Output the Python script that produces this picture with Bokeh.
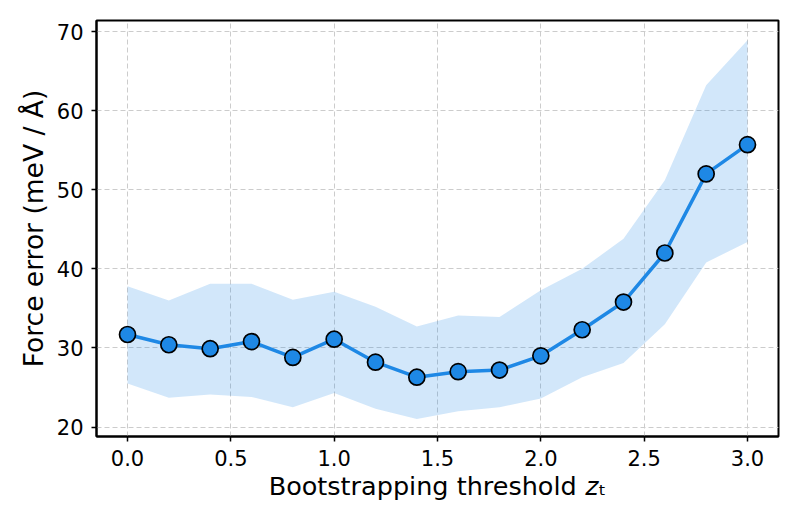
from bokeh.plotting import figure
from bokeh.models import Range1d, FixedTicker
from bokeh.embed import file_html
from bokeh.resources import INLINE

threshold = [0.0, 0.2, 0.4, 0.6, 0.8, 1.0, 1.2, 1.4, 1.6, 1.8, 2.0, 2.2, 2.4, 2.6, 2.8, 3.0]
force_error = [31.7, 30.4, 29.9, 30.8, 28.8, 31.1, 28.2, 26.3, 27.0, 27.2, 29.0, 32.3, 35.8, 42.0, 52.0, 55.7]
upper = [37.8, 36.0, 38.1, 38.1, 36.1, 37.1, 35.2, 32.7, 34.1, 33.9, 37.3, 40.0, 43.8, 51.2, 63.2, 68.9]
lower = [25.5, 23.7, 24.1, 23.8, 22.5, 24.3, 22.3, 21.0, 22.0, 22.5, 23.6, 26.3, 28.1, 33.0, 40.8, 43.4]
x_ticks = [0.0, 0.5, 1.0, 1.5, 2.0, 2.5, 3.0]
y_ticks = [20, 30, 40, 50, 60, 70]

FONT = "DejaVu Sans"
BLUE = "#1E88E5"

p = figure(width=781, height=516, output_backend="svg", toolbar_location=None,
           x_range=Range1d(-0.15, 3.15), y_range=Range1d(18.8, 71.4),
           min_border_left=96, min_border_right=3, min_border_top=20, min_border_bottom=80)
p.background_fill_color = "white"
p.border_fill_color = "white"
p.outline_line_color = "black"
p.outline_line_width = 2

p.varea(x=threshold, y1=lower, y2=upper, fill_color=BLUE, fill_alpha=0.2)
p.line(threshold, force_error, line_color=BLUE, line_width=3.5)
p.scatter(threshold, force_error, size=16, fill_color=BLUE, line_color="black", line_width=1.7)

for ax in (p.xaxis[0], p.yaxis[0]):
    ax.axis_line_color = "black"
    ax.axis_line_width = 2
    ax.major_tick_line_color = "black"
    ax.major_tick_line_width = 1.5
    ax.major_tick_out = 5
    ax.major_tick_in = 0
    ax.minor_tick_line_color = None
    ax.major_label_text_font = FONT
    ax.major_label_text_font_size = "21px"
    ax.major_label_text_color = "black"
    ax.axis_label_text_font = FONT
    ax.axis_label_text_font_style = "normal"
    ax.axis_label_text_font_size = "26.5px"
    ax.axis_label_text_color = "black"

p.xaxis.ticker = FixedTicker(ticks=x_ticks)
p.yaxis.ticker = FixedTicker(ticks=y_ticks)
p.xaxis.major_label_overrides = {t: f"{t:.1f}" for t in x_ticks}
p.xaxis.major_label_standoff = 8
p.yaxis.major_label_standoff = 8
p.xaxis.axis_label = "Bootstrapping threshold 𝑧ₜ"
p.xaxis.axis_label_text_font_size = "25.5px"
p.xaxis.axis_label_standoff = 2
p.yaxis.axis_label = "Force error (meV / Å)"
p.yaxis.axis_label_standoff = 5

for g in (p.xgrid[0], p.ygrid[0]):
    g.grid_line_color = "#cccccc"
    g.grid_line_width = 1
    g.grid_line_dash = "5 3"
p.xgrid.ticker = FixedTicker(ticks=x_ticks)
p.ygrid.ticker = FixedTicker(ticks=y_ticks)

open("out.html", "w").write(file_html(p, INLINE))
